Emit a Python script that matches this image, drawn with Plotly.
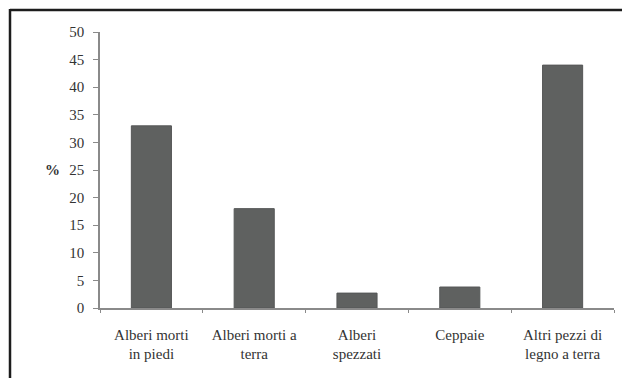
import plotly.graph_objects as go

# Share of deadwood by type (%)
categories = [
    "Alberi morti<br>in piedi",
    "Alberi morti a<br>terra",
    "Alberi<br>spezzati",
    "Ceppaie",
    "Altri pezzi di<br>legno a terra",
]
percent = [33, 18, 2.7, 3.8, 44]
y_ticks = [0, 5, 10, 15, 20, 25, 30, 35, 40, 45, 50]

W, H = 622, 378
L, R, T, B = 100, 8, 32, 70
plot_w = W - L - R
plot_h = H - T - B

serif = "Liberation Serif"
font = dict(family=serif, size=15, color="#333333")

fig = go.Figure(
    go.Bar(
        x=categories,
        y=percent,
        width=0.39,
        marker=dict(color="#5f6160", line=dict(color="#555757", width=1)),
    )
)

def px_to_paper_x(px):
    return (px - L) / plot_w

def px_to_paper_y(py):
    return (H - B - py) / plot_h

# Outer frame (left and top edges)
frame = dict(color="#1c1c1c", width=2.5)
fig.add_shape(type="line", xref="paper", yref="paper",
              x0=px_to_paper_x(10), x1=px_to_paper_x(W + 5),
              y0=px_to_paper_y(10), y1=px_to_paper_y(10), line=frame)
fig.add_shape(type="line", xref="paper", yref="paper",
              x0=px_to_paper_x(10), x1=px_to_paper_x(10),
              y0=px_to_paper_y(9), y1=px_to_paper_y(H + 5), line=frame)

fig.add_annotation(text="<b>%</b>", xref="paper", yref="paper",
                   x=px_to_paper_x(43), y=px_to_paper_y(170),
                   showarrow=False, font=dict(family=serif, size=15, color="#333333"))

fig.update_layout(
    width=W, height=H,
    margin=dict(l=L, r=R, t=T, b=B),
    paper_bgcolor="white", plot_bgcolor="white",
    font=font,
    showlegend=False,
    xaxis=dict(
        type="category",
        showline=True, linecolor="#8a8a8a", linewidth=1.5,
        ticks="outside", ticklen=3, tickcolor="#8a8a8a",
        tickson="boundaries",
        showgrid=False, zeroline=False,
        tickfont=font,
        ticklabelstandoff=12,
    ),
    yaxis=dict(
        range=[0, 50],
        tickvals=y_ticks,
        showline=True, linecolor="#8a8a8a", linewidth=1.5,
        ticks="outside", ticklen=5, tickcolor="#8a8a8a",
        showgrid=False, zeroline=False,
        tickfont=font,
        ticklabelstandoff=6,
    ),
)

fig.write_html("out.html")
